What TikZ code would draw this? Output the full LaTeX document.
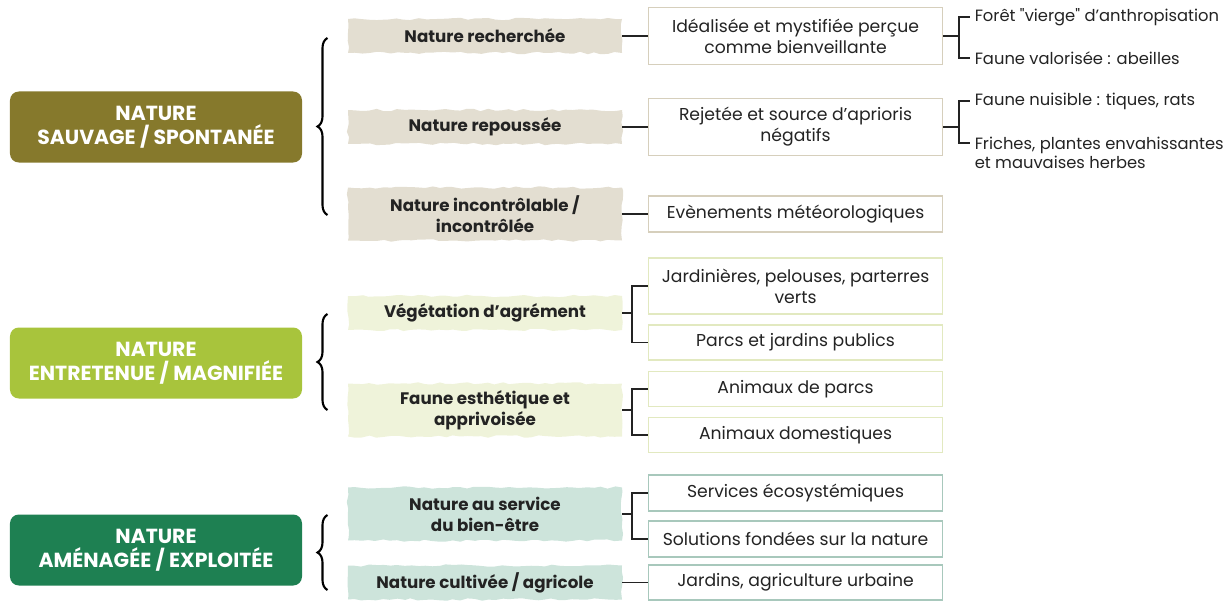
\documentclass[tikz,border=0pt]{standalone}
\usepackage{fontspec}
\setmainfont{Poppins}
\usetikzlibrary{decorations.pathreplacing,decorations.pathmorphing}

\definecolor{sauvage}{RGB}{134,121,44}
\definecolor{entretenue}{RGB}{168,196,60}
\definecolor{amenagee}{RGB}{30,128,82}
\definecolor{sauvageclair}{RGB}{227,222,209}
\definecolor{entretenueclair}{RGB}{239,243,218}
\definecolor{amenageeclair}{RGB}{205,228,219}
\definecolor{bordsauvage}{RGB}{214,207,188}
\definecolor{bordentretenue}{RGB}{226,233,192}
\definecolor{bordamenagee}{RGB}{168,200,188}
\definecolor{texte}{RGB}{35,35,35}

\tikzset{
  grand/.style={rectangle, rounded corners=5pt, minimum width=5.84cm, minimum height=1.42cm, text=white, align=center, font=\bfseries\fontsize{11.6}{13.6}\selectfont},
  categ/.style={rectangle, minimum width=5.48cm, minimum height=0.68cm, text=texte, align=center, font=\bfseries\fontsize{9.5}{12}\selectfont, decorate, decoration={random steps, segment length=4pt, amplitude=0.7pt}},
  boite/.style={draw, rectangle, minimum width=5.88cm, minimum height=0.70cm, fill=white, text=texte, align=center, line width=0.6pt, font=\fontsize{9.8}{12}\selectfont},
  detail/.style={rectangle, inner xsep=2.5pt, inner ysep=0pt, anchor=180, align=left, text=texte, font=\fontsize{9.3}{10.8}\selectfont},
  trait/.style={line width=1.1pt, draw=texte},
  accolade/.style={line width=1.2pt, decorate, decoration={brace, amplitude=0.2cm}},
}

\begin{document}
\begin{tikzpicture}
    \pgfmathsetseed{7}
    \useasboundingbox (0,0) rectangle (24.54,-12.04);

    %% ** nature sauvage
    \draw
    (3.12,-2.54)node[grand, fill=sauvage](g1){NATURE\\SAUVAGE / SPONTANÉE}
    (9.7,-0.72)node[categ, fill=sauvageclair](c1){Nature recherchée}
    (9.7,-2.54)node[categ, fill=sauvageclair](c2){Nature repoussée}
    (9.7,-4.28)node[categ, fill=sauvageclair, minimum height=1.06cm](c3){Nature incontrôlable /\\incontrôlée}
    (12.96,-0.72)node[boite, draw=bordsauvage, minimum height=1.14cm, anchor=180](b1){Idéalisée et mystifiée perçue\\comme bienveillante}
    (12.96,-2.54)node[boite, draw=bordsauvage, minimum height=1.14cm, anchor=180](b2){Rejetée et source d'aprioris\\négatifs}
    (12.96,-4.28)node[boite, draw=bordsauvage, minimum height=0.72cm, anchor=180](b3){Evènements météorologiques}
    (19.4,-0.34)node[detail](d1){Forêt \textquotedbl vierge\textquotedbl{} d'anthropisation}
    (19.4,-1.16)node[detail](d2){Faune valorisée : abeilles}
    (19.4,-2.02)node[detail](d3){Faune nuisible : tiques, rats}
    (19.4,-3.05)node[detail](d4){Friches, plantes envahissantes\\et mauvaises herbes}
    ;

    %% ** nature entretenue
    \draw
    (3.12,-7.26)node[grand, fill=entretenue](g2){NATURE\\ENTRETENUE / MAGNIFIÉE}
    (9.7,-6.26)node[categ, fill=entretenueclair](c4){Végétation d'agrément}
    (9.7,-8.20)node[categ, fill=entretenueclair, minimum height=1.06cm](c5){Faune esthétique et\\apprivoisée}
    (12.96,-5.72)node[boite, draw=bordentretenue, minimum height=1.12cm, anchor=180](b4){Jardinières, pelouses, parterres\\verts}
    (12.96,-6.85)node[boite, draw=bordentretenue, anchor=180](b5){Parcs et jardins publics}
    (12.96,-7.78)node[boite, draw=bordentretenue, anchor=180](b6){Animaux de parcs}
    (12.96,-8.70)node[boite, draw=bordentretenue, anchor=180](b7){Animaux domestiques}
    ;

    %% ** nature amenagee
    \draw
    (3.12,-11.0)node[grand, fill=amenagee](g3){NATURE\\AMÉNAGÉE / EXPLOITÉE}
    (9.7,-10.28)node[categ, fill=amenageeclair, minimum height=1.06cm](c6){Nature au service\\du bien-être}
    (9.7,-11.65)node[categ, fill=amenageeclair](c7){Nature cultivée / agricole}
    (12.96,-9.86)node[boite, draw=bordamenagee, minimum height=0.72cm, anchor=180](b8){Services écosystémiques}
    (12.96,-10.78)node[boite, draw=bordamenagee, minimum height=0.72cm, anchor=180](b9){Solutions fondées sur la nature}
    (12.96,-11.65)node[boite, draw=bordamenagee, anchor=180](b10){Jardins, agriculture urbaine}
    ;

    % accolades
    \draw[accolade] (6.55,-4.30) -- (6.55,-0.76);
    \draw[accolade] (6.55,-8.20) -- (6.55,-6.28);
    \draw[accolade] (6.55,-11.80) -- (6.55,-10.30);

    % liaisons
    \draw[trait] (c1.0) -- (b1.180);
    \draw[trait] (c2.0) -- (b2.180);
    \draw[trait] (c3.0) -- (b3.180);
    \draw[trait] (b1.0) -- ++(0.32,0) |- (d1.180);
    \draw[trait] (b1.0) ++(0.32,0) |- (d2.180);
    \draw[trait] (b2.0) -- ++(0.32,0) |- (d3.180);
    \draw[trait] (b2.0) ++(0.32,0) |- ([yshift=0.19cm]d4.180);
    \draw[trait] (c4.0) -- ++(0.2,0) |- (b4.180);
    \draw[trait] (c4.0) ++(0.2,0) |- (b5.180);
    \draw[trait] (c5.0) -- ++(0.2,0) |- (b6.180);
    \draw[trait] (c5.0) ++(0.2,0) |- (b7.180);
    \draw[trait] (c6.0) -- ++(0.2,0) |- (b8.180);
    \draw[trait] (c6.0) ++(0.2,0) |- (b9.180);
    \draw[trait] (c7.0) -- (b10.180);
\end{tikzpicture}
\end{document}
